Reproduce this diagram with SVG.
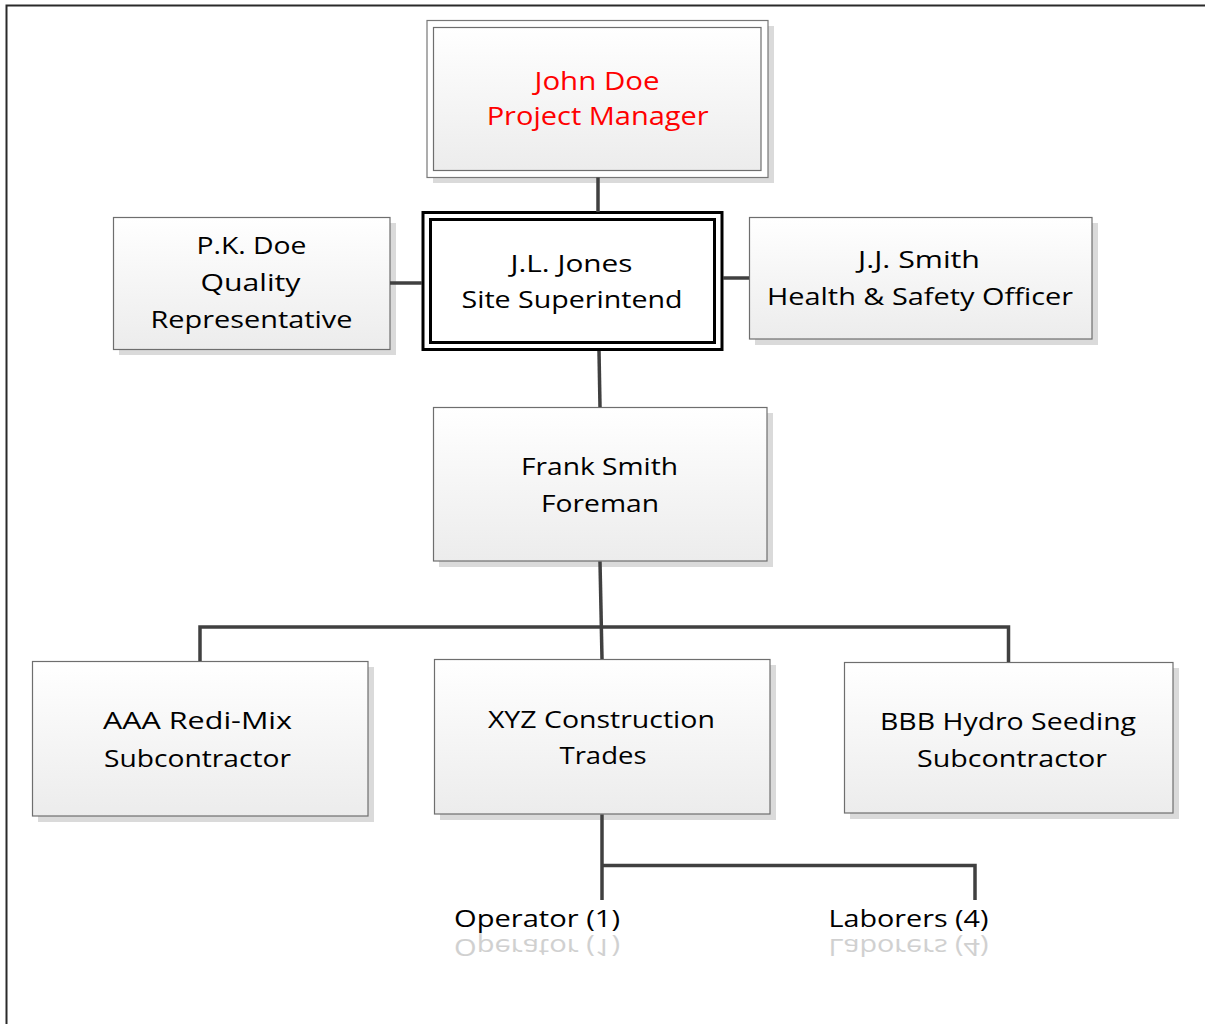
<svg xmlns="http://www.w3.org/2000/svg" width="1205" height="1024" viewBox="0 0 1205 1024">
<defs>
<linearGradient id="boxfill" x1="0" y1="0" x2="0" y2="1">
<stop offset="0" stop-color="#ffffff"/>
<stop offset="1" stop-color="#ececec"/>
</linearGradient>
<linearGradient id="refl" gradientUnits="userSpaceOnUse" x1="0" y1="930" x2="0" y2="946">
<stop offset="0" stop-color="#d0d0d0"/>
<stop offset="1" stop-color="#ffffff"/>
</linearGradient>
<style>
.shadow{fill:#dadada;stroke:none}
.box{fill:url(#boxfill);stroke:#6e6e6e;stroke-width:1.2}
.t{font-family:"Open Sans","Noto Sans","Liberation Sans",sans-serif;font-size:24.5px;fill:#000;text-anchor:middle}
.red{fill:#ff0000;font-size:26px}
.conn{fill:none;stroke:#404040;stroke-width:3.5;stroke-linejoin:miter}
.refl{fill:url(#refl)}
</style>
</defs>
<rect width="1205" height="1024" fill="#ffffff"/>
<path d="M6.5,1024 V5.5 H1205" fill="none" stroke="#2a2a2a" stroke-width="2"/>

<g id="pm">
<rect class="shadow" x="433" y="26" width="341" height="157"/>
<rect x="427" y="20.5" width="341" height="157" fill="#ffffff" stroke="#777" stroke-width="1.2"/>
<rect class="box" x="433.5" y="27.5" width="327.5" height="143"/>
<text class="t red" x="597" y="90" textLength="125" lengthAdjust="spacingAndGlyphs">John Doe</text>
<text class="t red" x="597.7" y="125" textLength="222" lengthAdjust="spacingAndGlyphs">Project Manager</text>
</g>

<g id="pkdoe">
<rect class="shadow" x="119" y="223" width="277" height="132"/>
<rect class="box" x="113.5" y="217.5" width="276.5" height="132"/>
<text class="t" x="251.5" y="254" textLength="110" lengthAdjust="spacingAndGlyphs">P.K. Doe</text>
<text class="t" x="250.5" y="291" textLength="100" lengthAdjust="spacingAndGlyphs">Quality</text>
<text class="t" x="251.5" y="328" textLength="202" lengthAdjust="spacingAndGlyphs">Representative</text>
</g>

<g id="jljones">
<rect x="423" y="212.5" width="299" height="137" fill="#ffffff" stroke="#000" stroke-width="3"/>
<rect x="430.5" y="219.5" width="284" height="123" fill="none" stroke="#000" stroke-width="3"/>
<text class="t" x="571.5" y="271.5" textLength="122" lengthAdjust="spacingAndGlyphs">J.L. Jones</text>
<text class="t" x="572" y="308" textLength="221" lengthAdjust="spacingAndGlyphs">Site Superintend</text>
</g>

<g id="jjsmith">
<rect class="shadow" x="755" y="223" width="343" height="122"/>
<rect class="box" x="749.5" y="217.5" width="342.5" height="121.5"/>
<text class="t" x="919" y="268" textLength="122" lengthAdjust="spacingAndGlyphs">J.J. Smith</text>
<text class="t" x="920" y="305" textLength="306" lengthAdjust="spacingAndGlyphs">Health &amp; Safety Officer</text>
</g>

<g id="frank">
<rect class="shadow" x="439" y="413" width="334" height="154"/>
<rect class="box" x="433.5" y="407.5" width="333.5" height="153.5"/>
<text class="t" x="599.5" y="475" textLength="157" lengthAdjust="spacingAndGlyphs">Frank Smith</text>
<text class="t" x="600" y="511.5" textLength="118" lengthAdjust="spacingAndGlyphs">Foreman</text>
</g>

<g id="aaa">
<rect class="shadow" x="38" y="667" width="336" height="155"/>
<rect class="box" x="32.5" y="661.5" width="335.5" height="154.5"/>
<text class="t" x="197.5" y="729" textLength="189" lengthAdjust="spacingAndGlyphs">AAA Redi-Mix</text>
<text class="t" x="197.5" y="766.5" textLength="187" lengthAdjust="spacingAndGlyphs">Subcontractor</text>
</g>

<g id="xyz">
<rect class="shadow" x="440" y="665" width="336" height="155"/>
<rect class="box" x="434.5" y="659.5" width="335.5" height="154.5"/>
<text class="t" x="601.4" y="728.3" textLength="227" lengthAdjust="spacingAndGlyphs">XYZ Construction</text>
<text class="t" x="603" y="764" textLength="87" lengthAdjust="spacingAndGlyphs">Trades</text>
</g>

<g id="bbb">
<rect class="shadow" x="850" y="668" width="329" height="151"/>
<rect class="box" x="844.5" y="662.5" width="328.5" height="150.5"/>
<text class="t" x="1008" y="730" textLength="256" lengthAdjust="spacingAndGlyphs">BBB Hydro Seeding</text>
<text class="t" x="1012" y="766.5" textLength="190" lengthAdjust="spacingAndGlyphs">Subcontractor</text>
</g>

<g id="operator">
<text class="t refl" transform="translate(0,1866) scale(1,-1)" x="537" y="927" textLength="166" lengthAdjust="spacingAndGlyphs">Operator (1)</text>
<text class="t" x="537" y="927" textLength="166" lengthAdjust="spacingAndGlyphs">Operator (1)</text>
</g>

<g id="laborers">
<text class="t refl" transform="translate(0,1866) scale(1,-1)" x="908.5" y="927" textLength="160" lengthAdjust="spacingAndGlyphs">Laborers (4)</text>
<text class="t" x="908.5" y="927" textLength="160" lengthAdjust="spacingAndGlyphs">Laborers (4)</text>
</g>

<g id="connectors">
<path class="conn" d="M598,177.5 V212"/>
<path class="conn" d="M390,283 H422"/>
<path class="conn" d="M723,278 H749"/>
<path class="conn" d="M599,351 L600,407"/>
<path class="conn" d="M600,561.5 L602,659"/>
<path class="conn" d="M200,661 V627 H1008.5 V662"/>
<path class="conn" d="M602,814.5 V900"/>
<path class="conn" d="M602,865.5 H975 V900"/>
</g>
</svg>
